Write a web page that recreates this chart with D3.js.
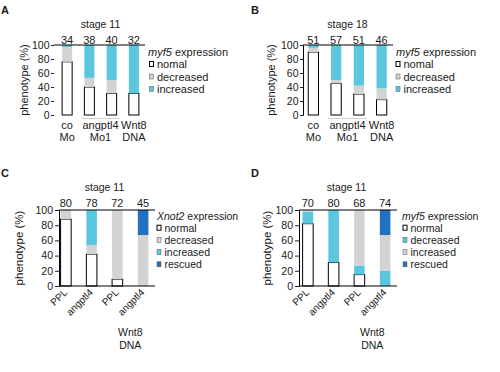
<!DOCTYPE html>
<html><head><meta charset="utf-8">
<script src="https://cdn.jsdelivr.net/npm/d3@7"></script>
<style>
body{margin:0;background:#fff}
text{font-family:"Liberation Sans",Arial,sans-serif;fill:#1a1a1a}
</style>
</head><body>
<svg width="500" height="372"></svg>
<script>
// ---- data ----
const yTicks = [0, 20, 40, 60, 80, 100];

// A: myf5, stage 11
const nA = [34, 38, 40, 32];
const normalA = [76, 40, 31, 31];
const decreasedA = [21, 13, 19, 0];
const increasedA = [3, 47, 50, 69];

// B: myf5, stage 18
const nB = [51, 57, 51, 46];
const normalB = [90, 45, 30, 22];
const decreasedB = [6, 5, 12, 16];
const increasedB = [4, 50, 58, 62];

// C: Xnot2, stage 11
const nC = [80, 78, 72, 45];
const normalC = [88, 42, 9, 0];
const decreasedC = [12, 12, 91, 67];
const increasedC = [0, 46, 0, 0];
const rescuedC = [0, 0, 0, 33];

// D: myf5, stage 11
const nD = [70, 80, 68, 74];
const normalD = [82, 31, 15, 0];
const decreasedD = [16, 69, 12, 20];
const increasedD = [2, 0, 73, 47];
const rescuedD = [0, 0, 0, 33];

const groupsAB = [
  {lines: ['co', 'Mo'], bars: [0]},
  {lines: ['angptl4', 'Mo1'], bars: [1, 2]},
  {lines: ['Wnt8', 'DNA'], bars: [3]}
];
const barLabelsCD = ['PPL', 'angptl4', 'PPL', 'angptl4'];
const legendAB = ['nomal', 'decreased', 'increased'];
const legendCD = ['normal', 'decreased', 'increased', 'rescued'];

const white = '#ffffff', grey = '#d3d3d3', cyan = '#5bc7df', blue = '#2470c0';

const svg = d3.select('svg');

function panel(o) {
  const g = svg.append('g');
  const x = d3.scaleBand().domain(d3.range(4)).range(o.xr).paddingInner(o.pad).paddingOuter(o.pad / 2);
  const y = d3.scaleLinear().domain([0, 100]).range(o.yr);

  g.append('text').attr('x', o.lx).attr('y', o.ly)
    .style('font-weight', 'bold').style('font-size', '11px').text(o.letter);

  // stacked bars
  const keys = o.series.map((s, i) => i);
  const rows = d3.range(4).map(i => {
    const r = {i: i};
    o.series.forEach((s, k) => r[k] = s.values[i]);
    return r;
  });
  const stacked = d3.stack().keys(keys)(rows);
  stacked.forEach((layer, k) => {
    const s = o.series[k];
    g.selectAll(null).data(layer.filter(d => d[1] - d[0] > 0)).enter()
      .append('rect')
      .attr('x', d => x(d.data.i))
      .attr('width', x.bandwidth())
      .attr('y', d => y(d[1]))
      .attr('height', d => y(d[0]) - y(d[1]))
      .attr('fill', s.color)
      .attr('stroke', s.color === white ? '#000' : 'none')
      .attr('stroke-width', 1);
  });

  // y axis
  const ax = g.append('g').attr('transform', `translate(${o.axisX},0)`)
    .call(d3.axisLeft(y).tickValues(yTicks).tickSize(o.tickSize).tickPadding(o.tickPad));
  ax.selectAll('text').style('font-size', '10.5px').attr('fill', '#1a1a1a');
  ax.selectAll('line').attr('stroke', '#222');
  ax.select('.domain').attr('stroke', o.domain ? '#000' : 'none');

  g.append('line').attr('x1', o.axisX).attr('x2', o.lineEnd)
    .attr('y1', y(100)).attr('y2', y(100)).attr('stroke', '#000');
  if (o.bottom) {
    g.append('line').attr('x1', o.axisX).attr('x2', o.lineEnd)
      .attr('y1', y(0)).attr('y2', y(0)).attr('stroke', '#000');
  }

  g.append('text').attr('transform', `translate(${o.ylx},${(o.yr[0] + o.yr[1]) / 2}) rotate(-90)`)
    .attr('text-anchor', 'middle').style('font-size', o.ylSize).text('phenotype (%)');

  const cx = i => x(i) + x.bandwidth() / 2;
  const mid = (cx(1) + cx(2)) / 2;
  g.append('text').attr('x', mid).attr('y', o.stageY).attr('text-anchor', 'middle')
    .style('font-size', '10.5px').text(o.stage);
  g.selectAll(null).data(o.n).enter().append('text')
    .attr('x', (d, i) => cx(i)).attr('y', o.nY).attr('text-anchor', 'middle')
    .style('font-size', '11px').text(d => d);

  // legend
  const t = g.append('text').attr('x', o.legX).attr('y', o.legY).style('font-size', o.legSize);
  t.append('tspan').style('font-style', 'italic').text(o.gene);
  t.append('tspan').text(' expression');
  o.legend.forEach((lab, k) => {
    const yy = o.legY + (k + 1) * o.legStep;
    g.append('rect').attr('x', o.swX + 0.5).attr('y', yy - 6.5).attr('width', 4).attr('height', 5)
      .attr('fill', o.series[k].color).attr('stroke', o.series[k].color === white ? '#000' : '#555')
      .attr('stroke-width', o.series[k].color === white ? 1 : 0.5);
    g.append('text').attr('x', o.swX + 8).attr('y', yy).style('font-size', o.legSize).text(lab);
  });

  return {g, x, y, cx};
}

// ---- A ----
const pA = panel({letter: 'A', lx: 1, ly: 14, xr: [56, 145], pad: 0.55, yr: [115, 45],
  axisX: 54, tickSize: 3, tickPad: 1.5, domain: false, lineEnd: 145, bottom: false,
  ylx: 28, ylSize: '11px', stage: 'stage 11', stageY: 28, n: nA, nY: 43.5,
  series: [{values: normalA, color: white}, {values: decreasedA, color: grey}, {values: increasedA, color: cyan}],
  gene: 'myf5', legend: legendAB, legX: 148, legY: 55.5, legStep: 12.5, swX: 149, legSize: '11px'});

// ---- B ----
const pB = panel({letter: 'B', lx: 251, ly: 14, xr: [302, 393], pad: 0.55, yr: [115, 45],
  axisX: 303, tickSize: 3, tickPad: 1.5, domain: true, lineEnd: 393, bottom: false,
  ylx: 275, ylSize: '11px', stage: 'stage 18', stageY: 28, n: nB, nY: 43.5,
  series: [{values: normalB, color: white}, {values: decreasedB, color: grey}, {values: increasedB, color: cyan}],
  gene: 'myf5', legend: legendAB, legX: 396, legY: 55.5, legStep: 12.5, swX: 395.5, legSize: '11px'});

[pA, pB].forEach(p => {
  groupsAB.forEach(gr => {
    const cx = d3.mean(gr.bars, p.cx);
    gr.lines.forEach((l, k) => {
      p.g.append('text').attr('x', cx).attr('y', 128.5 + k * 12.5).attr('text-anchor', 'middle')
        .style('font-size', '11px').text(l);
    });
    if (gr.bars.length > 1) {
      p.g.append('line').attr('x1', p.x(gr.bars[0]) - 3).attr('x2', p.x(gr.bars[1]) + p.x.bandwidth() + 3)
        .attr('y1', 118.5).attr('y2', 118.5).attr('stroke', '#bbb').attr('stroke-width', 0.7);
    }
  });
});

// ---- C ----
const pC = panel({letter: 'C', lx: 1, ly: 177, xr: [53, 156], pad: 0.59, yr: [286, 210],
  axisX: 59, tickSize: 4, tickPad: 2, domain: true, lineEnd: 155, bottom: true,
  ylx: 23, ylSize: '11.5px', stage: 'stage 11', stageY: 190.5, n: nC, nY: 206.5,
  series: [{values: normalC, color: white}, {values: decreasedC, color: grey},
           {values: increasedC, color: cyan}, {values: rescuedC, color: blue}],
  gene: 'Xnot2', legend: legendCD, legX: 157, legY: 219.5, legStep: 12.2, swX: 156.5, legSize: '10.5px'});

// ---- D ----
const pD = panel({letter: 'D', lx: 251, ly: 177, xr: [295, 398], pad: 0.59, yr: [286, 210],
  axisX: 299, tickSize: 4, tickPad: 2, domain: true, lineEnd: 397, bottom: true,
  ylx: 271, ylSize: '11.5px', stage: 'stage 11', stageY: 190.5, n: nD, nY: 206.5,
  series: [{values: normalD, color: white}, {values: decreasedD, color: cyan},
           {values: increasedD, color: grey}, {values: rescuedD, color: blue}],
  gene: 'myf5', legend: legendCD, legX: 402, legY: 219.5, legStep: 12.2, swX: 402.5, legSize: '10.5px'});

[pC, pD].forEach(p => {
  barLabelsCD.forEach((l, i) => {
    p.g.append('text').attr('transform', `translate(${p.cx(i) + 2},${293}) rotate(-45)`)
      .attr('text-anchor', 'end').style('font-size', '10px').text(l);
  });
  const cx = (p.cx(2) + p.cx(3)) / 2;
  ['Wnt8', 'DNA'].forEach((l, k) => {
    p.g.append('text').attr('x', cx).attr('y', 336 + k * 13).attr('text-anchor', 'middle')
      .style('font-size', '10.5px').text(l);
  });
});
</script>
</body></html>
